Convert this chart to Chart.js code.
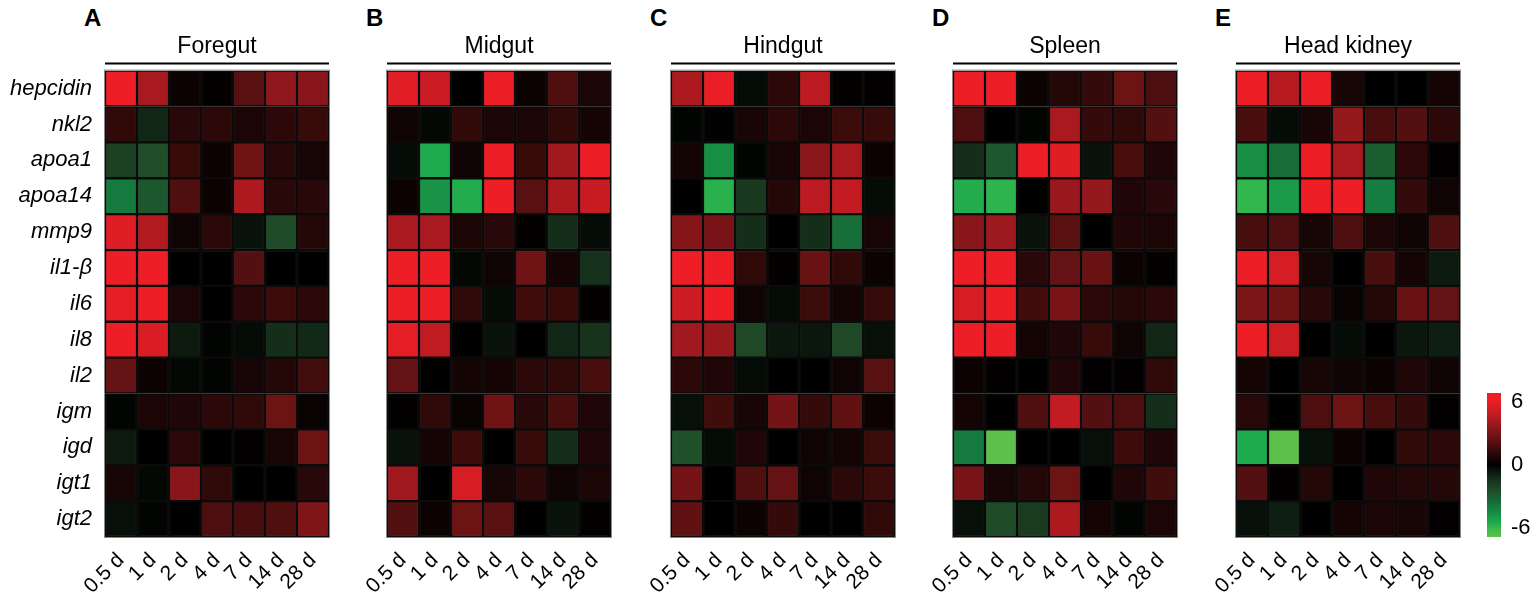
<!DOCTYPE html>
<html>
<head>
<meta charset="utf-8">
<script src="https://cdn.jsdelivr.net/npm/chart.js@4.4.1/dist/chart.umd.min.js"></script>
<style>
  body { margin: 0; background: #fff; }
  #wrap { position: relative; width: 1535px; height: 599px; overflow: hidden; }
  canvas { position: absolute; top: 0; }
  .letter { position: absolute; top: 4px; font: bold 24px "Liberation Sans", Arial, sans-serif; color: #000; }
</style>
</head>
<body>
<div id="wrap">
  <span class="letter" style="left:84px">A</span>
  <span class="letter" style="left:366px">B</span>
  <span class="letter" style="left:650px">C</span>
  <span class="letter" style="left:932px">D</span>
  <span class="letter" style="left:1215px">E</span>
  <canvas id="pA" width="340" height="599" style="left:0px"></canvas>
  <canvas id="pB" width="295" height="599" style="left:327px"></canvas>
  <canvas id="pC" width="295" height="599" style="left:611px"></canvas>
  <canvas id="pD" width="295" height="599" style="left:893px"></canvas>
  <canvas id="pE" width="295" height="599" style="left:1176px"></canvas>
  <canvas id="key" width="65" height="599" style="left:1470px"></canvas>
</div>
<script>
// genes (rows) and sampling times (columns)
const genes = ['hepcidin', 'nkl2', 'apoa1', 'apoa14', 'mmp9', 'il1-β', 'il6', 'il8', 'il2', 'igm', 'igd', 'igt1', 'igt2'];
const days = ['0.5 d', '1 d', '2 d', '4 d', '7 d', '14 d', '28 d'];
const keyTicks = [-6, 0, 6];

// log2 fold change, one row per gene
const foregut = [
  [6.2, 4.2, 0.3, 0.1, 2.2, 3.6, 3.4],
  [1.2, -1.0, 1.0, 1.1, 0.7, 1.1, 1.4],
  [-2.0, -2.5, 1.4, 0.3, 2.8, 1.0, 0.6],
  [-4.0, -2.8, 2.0, 0.3, 4.3, 1.0, 1.0],
  [5.6, 4.5, 0.4, 1.1, -0.5, -2.4, 0.9],
  [6.3, 6.1, 0, 0, 2.1, 0, 0],
  [5.8, 6.2, 0.7, 0, 1.1, 1.5, 1.1],
  [6.1, 5.5, -0.7, -0.1, -0.3, -1.3, -1.1],
  [2.5, 0.3, -0.2, -0.1, 0.6, 0.9, 1.7],
  [-0.1, 0.7, 0.8, 1.1, 1.2, 2.7, 0.2],
  [-0.7, 0, 1.1, 0, 0.05, 0.6, 2.7],
  [0.6, -0.2, 3.4, 1.2, 0, 0, 1.0],
  [-0.4, -0.1, 0, 1.9, 1.8, 2.0, 3.2]
];
const midgut = [
  [5.7, 5.1, 0, 6.2, 0.3, 2.0, 0.7],
  [0.4, -0.2, 1.2, 0.7, 0.7, 1.2, 0.5],
  [-0.3, -5.5, 0.4, 6.2, 1.4, 4.1, 6.2],
  [0.3, -4.8, -5.6, 6.2, 2.2, 4.3, 5.0],
  [4.2, 4.2, 0.7, 1.0, 0.1, -1.3, -0.3],
  [6.2, 6.2, -0.2, 0.4, 2.8, 0.5, -1.4],
  [6.2, 6.2, 1.2, -0.3, 1.6, 1.4, 0.1],
  [5.8, 4.8, 0, -0.5, 0, -1.0, -1.5],
  [2.5, 0, 0.5, 0.5, 1.1, 1.2, 1.8],
  [0.1, 1.2, 0.2, 2.8, 1.0, 1.8, 0.8],
  [-0.5, 0.5, 1.5, 0, 1.4, -1.3, 0.8],
  [4.0, 0, 5.4, 0.6, 1.1, 0.4, 0.7],
  [2.1, 0.3, 2.7, 2.2, 0, -0.5, 0.1]
];
const hindgut = [
  [4.3, 5.9, -0.3, 1.1, 4.7, 0.1, 0.05],
  [-0.1, -0.05, 0.6, 1.1, 0.7, 1.5, 1.4],
  [0.5, -4.6, -0.1, 0.6, 3.5, 4.2, 0.3],
  [0, -5.8, -1.7, 0.9, 4.7, 4.9, -0.3],
  [3.3, 3.0, -1.3, 0, -1.3, -3.6, 0.6],
  [6.2, 6.1, 1.2, 0.1, 2.6, 1.2, 0.3],
  [5.1, 6.1, 0.4, -0.3, 1.5, 0.5, 1.4],
  [4.0, 3.8, -2.3, -0.6, -0.6, -2.3, -0.4],
  [1.1, 0.8, -0.3, 0, 0, 0.4, 2.2],
  [-0.4, 1.6, 0.6, 2.9, 1.3, 2.4, 0.3],
  [-2.6, -0.3, 0.8, 0, 0.4, 0.5, 1.5],
  [2.9, 0, 2.0, 2.5, 0.4, 1.1, 1.5],
  [2.4, 0, 0.3, 1.3, 0, 0, 1.2]
];
const spleen = [
  [6.2, 6.2, 0.3, 0.9, 1.3, 2.7, 1.9],
  [1.9, 0, -0.1, 4.2, 1.3, 1.2, 2.1],
  [-1.3, -2.8, 6.2, 5.6, -0.5, 1.8, 0.8],
  [-5.6, -5.9, 0, 3.8, 3.7, 0.8, 1.0],
  [3.4, 3.9, -0.5, 2.2, 0, 0.8, 0.7],
  [6.2, 6.2, 1.0, 2.5, 2.6, 0.3, 0.1],
  [5.4, 6.1, 1.6, 3.0, 1.1, 0.9, 1.1],
  [6.2, 6.1, 0.5, 0.8, 1.4, 0.4, -1.0],
  [0.3, 0.05, 0, 0.8, 0.05, 0.05, 1.2],
  [0.5, 0, 2.0, 4.9, 2.1, 1.9, -1.3],
  [-4.0, -6.5, 0, 0, -0.4, 1.5, 0.8],
  [3.0, 0.6, 0.9, 2.7, 0, 0.8, 1.6],
  [-0.4, -2.4, -1.8, 4.3, 0.5, -0.1, 0.7]
];
const headKidney = [
  [6.2, 4.6, 6.2, 0.6, 0, 0, 0.5],
  [1.8, -0.3, 0.6, 3.7, 1.8, 2.1, 1.1],
  [-4.6, -3.6, 6.2, 4.2, -3.0, 1.1, 0.05],
  [-6.0, -5.0, 6.2, 6.2, -4.1, 1.3, 0.4],
  [1.8, 1.9, 0.6, 1.9, 0.7, 0.4, 2.0],
  [6.2, 5.4, 0.6, 0, 1.8, 0.5, -0.7],
  [3.1, 2.8, 1.0, 0.2, 0.9, 2.6, 2.5],
  [6.2, 5.2, 0, -0.3, 0, -0.6, -0.8],
  [0.5, 0, 0.6, 0.4, 0.3, 0.8, 0.4],
  [1.0, 0, 1.9, 2.7, 1.8, 1.3, 0.05],
  [-5.5, -6.5, -0.4, 0.3, 0, 1.2, 1.1],
  [2.1, 0.1, 0.9, 0, 0.8, 0.9, 0.9],
  [-0.4, -0.8, 0, 0.5, 0.7, 0.6, 0.05]
];

Chart.defaults.font.family = '"Liberation Sans", Arial, sans-serif';
Chart.defaults.color = '#000';

// colour key: black in the middle, red up, green down
const redStops = [[0, [0, 0, 0]], [2, [80, 15, 15]], [4, [160, 25, 30]], [6, [237, 30, 38]]];
const greenStops = [[0, [0, 0, 0]], [1, [18, 38, 22]], [2.4, [32, 75, 40]], [4, [20, 122, 62]],
                    [5.5, [30, 170, 78]], [6, [50, 182, 78]], [6.5, [92, 192, 74]]];

function heatColor(v) {
  const stops = v >= 0 ? redStops : greenStops;
  let a = Math.abs(v);
  if (a >= stops[stops.length - 1][0]) a = stops[stops.length - 1][0];
  for (let i = 1; i < stops.length; i++) {
    if (a <= stops[i][0]) {
      const t = (a - stops[i - 1][0]) / (stops[i][0] - stops[i - 1][0]);
      const c = stops[i - 1][1].map((x, k) => Math.round(x + t * (stops[i][1][k] - x)));
      return 'rgb(' + c.join(',') + ')';
    }
  }
  return 'rgb(' + stops[stops.length - 1][1].join(',') + ')';
}

// line under the tissue name + thin grey frame round the cells
const panelFrame = {
  id: 'panelFrame',
  afterDraw(chart) {
    const { ctx, chartArea: a } = chart;
    ctx.save();
    ctx.strokeStyle = '#000';
    ctx.lineWidth = 2;
    ctx.beginPath();
    ctx.moveTo(a.left, a.top - 7);
    ctx.lineTo(a.right, a.top - 7);
    ctx.stroke();
    ctx.strokeStyle = '#8a8a8a';
    ctx.lineWidth = 1;
    ctx.strokeRect(a.left - 0.5, a.top - 0.5, a.width + 1, a.height + 1);
    ctx.restore();
  }
};

function makePanel(id, tissue, values, showRows) {
  new Chart(document.getElementById(id), {
    type: 'bar',
    data: {
      labels: days,
      // one stacked dataset per gene, every cell one unit tall
      datasets: genes.map((g, i) => ({
        label: g,
        data: days.map(() => 1),
        backgroundColor: values[i].map(heatColor),
        borderColor: '#0b0b0b',
        borderWidth: 1.5,
        borderSkipped: false,
        categoryPercentage: 1,
        barPercentage: 1
      }))
    },
    options: {
      responsive: false,
      animation: false,
      events: [],
      layout: { padding: { left: showRows ? 0 : 60, right: 11, top: 0, bottom: 0 } },
      plugins: {
        legend: { display: false },
        tooltip: { enabled: false },
        title: {
          display: true,
          text: tissue,
          fullSize: false,
          font: { size: 23, weight: 'normal' },
          padding: { top: 33, bottom: 10 }
        }
      },
      scales: {
        x: {
          stacked: true,
          grid: { display: false },
          border: { display: false },
          ticks: { font: { size: 21 }, minRotation: 45, maxRotation: 45, autoSkip: false, padding: 3 },
          afterFit: s => { s.height = 62; }
        },
        y: { stacked: true, reverse: true, min: 0, max: genes.length, display: false },
        rows: {
          type: 'category',
          axis: 'y',
          position: 'left',
          labels: genes,
          offset: true,
          display: showRows,
          grid: { display: false, drawTicks: false },
          border: { display: false },
          ticks: { font: { size: 22, style: 'italic' }, padding: 13 },
          afterFit: s => { if (showRows) s.width = 105; }
        }
      }
    },
    plugins: [panelFrame]
  });
}

makePanel('pA', 'Foregut', foregut, true);
makePanel('pB', 'Midgut', midgut, false);
makePanel('pC', 'Hindgut', hindgut, false);
makePanel('pD', 'Spleen', spleen, false);
makePanel('pE', 'Head kidney', headKidney, false);

// colour key bar
const keyMin = -6.86, keyMax = 6.86;
new Chart(document.getElementById('key'), {
  type: 'bar',
  data: {
    labels: ['key'],
    datasets: [{
      data: [[keyMin, keyMax]],
      barPercentage: 1,
      categoryPercentage: 1,
      backgroundColor: ctx => {
        const a = ctx.chart.chartArea;
        if (!a) return '#000';
        const g = ctx.chart.ctx.createLinearGradient(0, a.bottom, 0, a.top);
        for (let s = 0; s <= 1.0001; s += 0.05) {
          g.addColorStop(Math.min(s, 1), heatColor(keyMin + s * (keyMax - keyMin)));
        }
        return g;
      }
    }]
  },
  options: {
    responsive: false,
    animation: false,
    events: [],
    layout: { padding: { left: 17, top: 393, bottom: 62, right: 0 } },
    plugins: { legend: { display: false }, tooltip: { enabled: false } },
    scales: {
      x: { display: false },
      y: {
        position: 'right',
        min: keyMin,
        max: keyMax,
        grid: { display: false, drawTicks: false },
        border: { display: false },
        ticks: { font: { size: 22 }, padding: 10 },
        afterBuildTicks: s => { s.ticks = keyTicks.map(v => ({ value: v })); },
        afterFit: s => { s.width = 34; }
      }
    }
  }
});
</script>
</body>
</html>
